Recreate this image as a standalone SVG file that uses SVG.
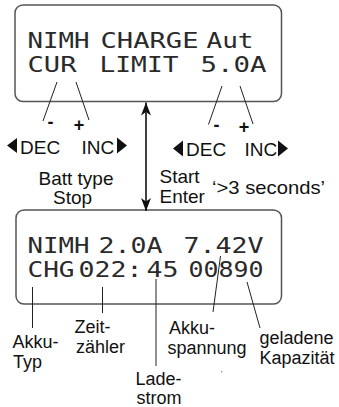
<svg xmlns="http://www.w3.org/2000/svg" width="339" height="407" viewBox="0 0 339 407">
<style>
.box{fill:#fff;stroke:#555;stroke-width:1.5}
.lcd{font-family:"DejaVu Sans Mono","Liberation Mono",monospace;font-size:22px;fill:#2a2a2a}
.lbl{font-family:"Liberation Sans",Arial,sans-serif;font-size:19px;fill:#111}
.sm{font-family:"Liberation Sans",Arial,sans-serif;font-size:18px;fill:#111}
.sign{font-family:"Liberation Sans",Arial,sans-serif;font-size:18px;font-weight:bold;fill:#111;text-anchor:middle}
.ln{stroke:#222;stroke-width:1;fill:none}
.tri{fill:#111}
</style>
<defs>
<marker id="ah" markerWidth="14" markerHeight="12" refX="13" refY="5.5" orient="auto-start-reverse" markerUnits="userSpaceOnUse">
<path d="M0,0.5 L13,5.5 L0,10.5 L3.5,5.5 Z" fill="#111"/>
</marker>
</defs>

<g id="top-display">
<rect class="box" x="15" y="5" width="266.5" height="96.5" rx="8"/>
<text class="lcd" y="48" x="27.5" textLength="62" lengthAdjust="spacingAndGlyphs">NIMH</text>
<text class="lcd" y="48" x="100.5" textLength="98" lengthAdjust="spacingAndGlyphs">CHARGE</text>
<text class="lcd" y="48" x="206.5" textLength="47" lengthAdjust="spacingAndGlyphs">Aut</text>
<text class="lcd" y="72" x="27.5" textLength="49" lengthAdjust="spacingAndGlyphs">CUR</text>
<text class="lcd" y="72" x="99.5" textLength="79" lengthAdjust="spacingAndGlyphs">LIMIT</text>
<text class="lcd" y="72" x="200.5" textLength="66" lengthAdjust="spacingAndGlyphs">5.0A</text>
</g>

<g id="bottom-display">
<rect class="box" x="16" y="210" width="265.5" height="94" rx="8"/>
<text class="lcd" y="253" x="27.5" textLength="62" lengthAdjust="spacingAndGlyphs">NIMH</text>
<text class="lcd" y="253" x="98.5" textLength="64" lengthAdjust="spacingAndGlyphs">2.0A</text>
<text class="lcd" y="253" x="183.5" textLength="80" lengthAdjust="spacingAndGlyphs">7.42V</text>
<text class="lcd" y="277" x="27.5" textLength="47" lengthAdjust="spacingAndGlyphs">CHG</text>
<text class="lcd" y="277" x="78.5" textLength="64" lengthAdjust="spacingAndGlyphs">022:</text>
<text class="lcd" y="277" x="146.5" textLength="32" lengthAdjust="spacingAndGlyphs">45</text>
<text class="lcd" y="277" x="188.5" textLength="75" lengthAdjust="spacingAndGlyphs">00890</text>
</g>

<g id="connectors">
<line class="ln" x1="57" y1="82" x2="43" y2="121"/>
<line class="ln" x1="76" y1="82" x2="89" y2="120"/>
<line class="ln" x1="222" y1="86" x2="208.5" y2="124.5"/>
<line class="ln" x1="240" y1="86" x2="253" y2="124"/>
<line x1="146" y1="102.5" x2="146" y2="211" stroke="#111" stroke-width="1.6" marker-start="url(#ah)" marker-end="url(#ah)"/>
<line class="ln" x1="32.5" y1="287" x2="32.5" y2="328"/>
<line class="ln" x1="102.5" y1="287" x2="102.5" y2="313"/>
<line class="ln" x1="156" y1="279" x2="156" y2="366"/>
<line class="ln" x1="220.5" y1="256" x2="213" y2="312"/>
<line class="ln" x1="247" y1="282" x2="260" y2="328"/>
</g>

<g id="left-keys">
<text class="sign" x="50.5" y="127.5">-</text>
<text class="sign" x="79" y="130.5">+</text>
<polygon class="tri" points="7,145.5 17,138 17,153"/>
<text class="lbl" x="20" y="153.5" font-size="19.5">DEC</text>
<text class="lbl" x="81.5" y="153.5" font-size="19.5">INC</text>
<polygon class="tri" points="117,137.5 127,145.5 117,153.5"/>
</g>

<g id="right-keys">
<text class="sign" x="216.5" y="131">-</text>
<text class="sign" x="244" y="133">+</text>
<polygon class="tri" points="173,148.5 183,140.5 183,156.5"/>
<text class="lbl" x="186" y="156" font-size="19.5">DEC</text>
<text class="lbl" x="244.5" y="156" font-size="19.5">INC</text>
<polygon class="tri" points="278,140.5 288,148.5 278,156.5"/>
</g>

<g id="batt-type-stop">
<text class="lbl" x="38.5" y="185">Batt type</text>
<text class="lbl" x="53" y="204">Stop</text>
</g>

<g id="start-enter">
<text class="lbl" x="159.5" y="182.5">Start</text>
<text class="lbl" x="159.5" y="202.5">Enter</text>
<text class="lbl" x="212" y="193.5" textLength="113" lengthAdjust="spacingAndGlyphs">‘&gt;3 seconds’</text>
</g>

<g id="label-akku-typ">
<text class="sm" x="12.5" y="348">Akku-</text>
<text class="sm" x="13" y="368">Typ</text>
</g>
<g id="label-zeitzaehler">
<text class="sm" x="74.5" y="332.5">Zeit-</text>
<text class="sm" x="76" y="352.5">zähler</text>
</g>
<g id="label-ladestrom">
<text class="sm" x="135.5" y="384.5" font-size="17">Lade-</text>
<text class="sm" x="136.5" y="403.5" font-size="17">strom</text>
</g>
<g id="label-akkuspannung">
<text class="sm" x="169" y="333.5">Akku-</text>
<text class="sm" x="167.5" y="353.5">spannung</text>
</g>
<g id="label-kapazitaet">
<text class="sm" x="259.5" y="343.5">geladene</text>
<text class="sm" x="259.5" y="363.5">Kapazität</text>
</g>
<circle cx="221.7" cy="371.7" r="0.7" fill="#777"/>
</svg>
